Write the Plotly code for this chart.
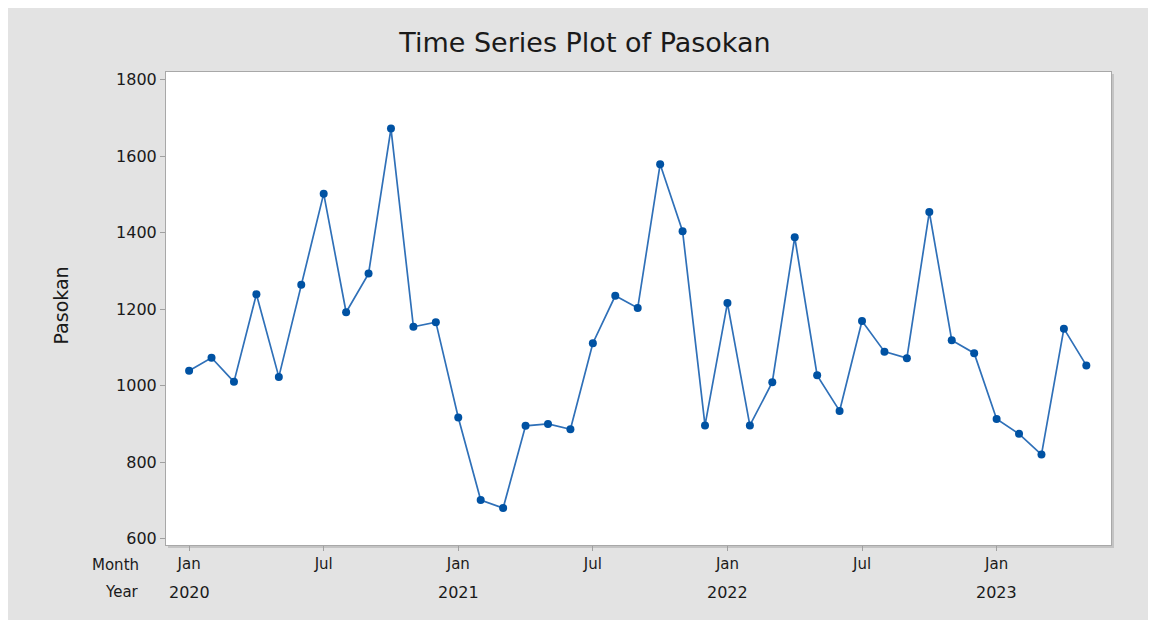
import plotly.graph_objects as go

# Monthly data Jan 2020 .. May 2023
month_index = list(range(41))
pasokan = [1039, 1073, 1010, 1239, 1023, 1264, 1502, 1192, 1293, 1672, 1154, 1166,
           917, 701, 680, 895, 900, 886, 1111, 1235, 1203, 1579, 1404, 896,
           1216, 896, 1009, 1388, 1027, 934, 1169, 1089, 1072, 1454, 1119, 1085,
           913, 874, 820, 1149, 1053]

month_tick_pos = [0, 6, 12, 18, 24, 30, 36]
month_tick_text = ["Jan", "Jul", "Jan", "Jul", "Jan", "Jul", "Jan"]
year_pos = [0, 12, 24, 36]
year_text = ["2020", "2021", "2022", "2023"]
y_ticks = [600, 800, 1000, 1200, 1400, 1600, 1800]

# figure is placed by the page with an 8px body margin
W, H = 1156, 620
L, R, T, B = 158, 1103, 64, 537
FONT = "DejaVu Sans"
TXT = "#1a1a1a"

fig = go.Figure()
fig.add_trace(go.Scatter(
    x=month_index, y=pasokan, mode="lines+markers",
    line=dict(color="#2f70b8", width=1.7),
    marker=dict(color="#0052a3", size=8),
    showlegend=False,
))

def px_x(px):
    return (px - L) / (R - L)

def px_y(py):
    return (B - py) / (B - T)

shapes = [
    dict(type="line", xref="paper", yref="paper", x0=px_x(R + 2), x1=px_x(R + 2), y0=px_y(B + 3), y1=px_y(T + 2),
         line=dict(color="#c4c4c4", width=2), layer="below"),
    dict(type="line", xref="paper", yref="paper", x0=px_x(L + 2), x1=px_x(R + 3), y0=px_y(B + 2), y1=px_y(B + 2),
         line=dict(color="#c4c4c4", width=2), layer="below"),
]

annotations = []
for xp, t in zip(year_pos, year_text):
    annotations.append(dict(x=xp, y=px_y(584), xref="x", yref="paper", text=t, showarrow=False,
                            font=dict(family=FONT, size=16, color=TXT), xanchor="center", yanchor="middle"))
annotations.append(dict(x=px_x(133), y=px_y(557), xref="paper", yref="paper", text="Month", showarrow=False,
                        font=dict(family=FONT, size=15, color=TXT), xanchor="right", yanchor="middle"))
annotations.append(dict(x=px_x(133), y=px_y(584), xref="paper", yref="paper", text="Year", showarrow=False,
                        font=dict(family=FONT, size=15, color=TXT), xanchor="right", yanchor="middle"))
annotations.append(dict(x=px_x(52.5), y=px_y(298), xref="paper", yref="paper", text="Pasokan", showarrow=False,
                        textangle=-90, font=dict(family=FONT, size=19, color=TXT),
                        xanchor="center", yanchor="middle"))

fig.update_layout(
    width=W, height=H,
    margin=dict(l=L, r=W - R, t=T, b=H - B, pad=0),
    paper_bgcolor="#e3e3e3",
    plot_bgcolor="white",
    title=dict(text="Time Series Plot of Pasokan", x=577 / W, xanchor="center",
               y=1 - 35 / H, yanchor="middle",
               font=dict(family=FONT, size=27, color=TXT)),
    shapes=shapes,
    annotations=annotations,
    xaxis=dict(range=[-1.03, 41.1], tickvals=month_tick_pos, ticktext=month_tick_text,
               showgrid=False, zeroline=False, showline=True, mirror=True,
               linecolor="#a8a8a8", linewidth=1,
               ticks="outside", ticklen=5, tickcolor="#a0a0a0",
               tickfont=dict(family=FONT, size=15, color=TXT)),
    yaxis=dict(range=[583.5, 1820], tickvals=y_ticks,
               showgrid=False, zeroline=False, showline=True, mirror=True,
               linecolor="#a8a8a8", linewidth=1,
               ticks="outside", ticklen=5, tickcolor="#a0a0a0",
               tickfont=dict(family=FONT, size=16, color=TXT)),
)

fig.write_html("out.html")
